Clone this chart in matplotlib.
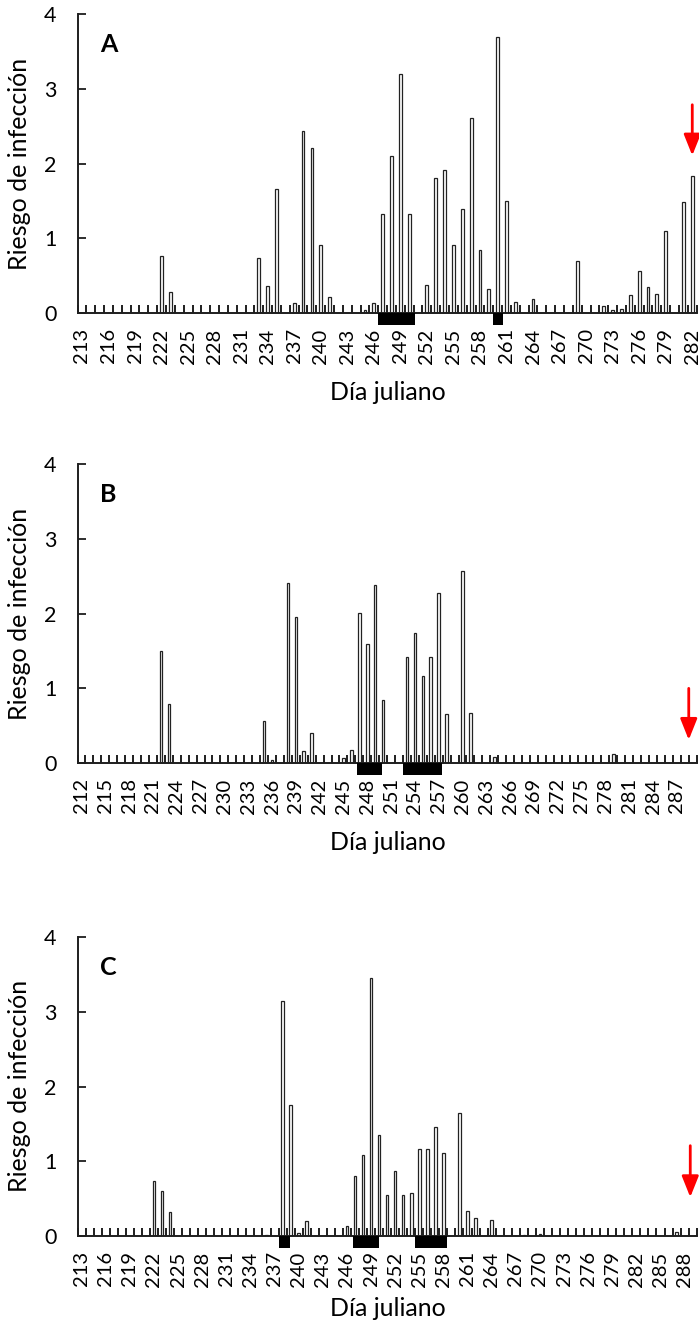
import matplotlib
matplotlib.use("Agg")
import matplotlib.pyplot as plt
from matplotlib.patches import Rectangle

plt.rcParams["font.family"] = ["Lato", "DejaVu Sans"]

# Panel A: days 213-282
a_first, a_last = 213, 282
a_days = [222, 223, 233, 234, 235, 237, 238, 239, 240, 241, 245, 246, 247, 248,
          249, 250, 252, 253, 254, 255, 256, 257, 258, 259, 260, 261, 262, 264,
          269, 272, 273, 274, 275, 276, 277, 278, 279, 281, 282]
a_vals = [0.77, 0.28, 0.74, 0.36, 1.66, 0.13, 2.44, 2.21, 0.91, 0.22, 0.04, 0.14, 1.33, 2.10,
          3.20, 1.32, 0.37, 1.81, 1.92, 0.91, 1.40, 2.61, 0.85, 0.32, 3.70, 1.50, 0.15, 0.19,
          0.70, 0.10, 0.04, 0.06, 0.24, 0.56, 0.35, 0.25, 1.10, 1.49, 1.83]
a_rain = [(247.0, 251.1), (260.0, 261.15)]

# Panel B: days 212-289
b_first, b_last = 212, 289
b_days = [222, 223, 235, 236, 238, 239, 240, 241, 245, 246, 247, 248, 249, 250,
          253, 254, 255, 256, 257, 258, 260, 261, 264, 279]
b_vals = [1.50, 0.79, 0.56, 0.045, 2.41, 1.95, 0.16, 0.40, 0.07, 0.18, 2.01, 1.59, 2.39, 0.85,
          1.42, 1.74, 1.17, 1.42, 2.28, 0.66, 2.57, 0.67, 0.08, 0.12]
b_rain = [(247.2, 250.35), (253.0, 257.9)]

# Panel C: days 213-289
c_first, c_last = 213, 289
c_days = [222, 223, 224, 233, 236, 238, 239, 240, 241, 246, 247, 248, 249, 250,
          251, 252, 253, 254, 255, 256, 257, 258, 260, 261, 262, 264, 268, 270, 287]
c_vals = [0.74, 0.60, 0.32, -0.01, 0.02, 3.15, 1.76, 0.045, 0.20, 0.14, 0.81, 1.09, 3.45, 1.35,
          0.55, 0.87, 0.55, 0.57, 1.16, 1.16, 1.46, 1.11, 1.65, 0.33, 0.24, 0.21, 0.01, 0.03, 0.05]
c_rain = [(238.1, 239.4), (247.2, 250.45), (255.0, 259.0)]

AXIS_COLOR = "#1e1e1e"
FS_TICK = 14.5
FS_LABEL = 18


def draw_panel(fig, bottom, first, last, days, vals, rain, letter, arrow_day, arrow_top, arrow_tip):
    ax = fig.add_axes([0.1109, bottom, 0.8858, 0.2255])
    n = last - first + 1
    xs = [d - first for d in days]
    ax.bar(xs, vals, width=0.32, color="white", edgecolor="#222222", linewidth=0.9, zorder=3)

    ax.set_xlim(-0.5, n - 0.5)
    ax.set_ylim(0, 4)

    # tick marks between categories, labels every third day
    ax.set_xticks([i - 0.5 for i in range(n + 1)])
    ax.set_xticklabels([])
    lab_idx = list(range(0, n, 3))
    ax.set_xticks(lab_idx, [str(first + i) for i in lab_idx], minor=True, rotation=90)
    ax.tick_params(axis="x", which="major", direction="in", length=5.5, width=1.4, color=AXIS_COLOR)
    ax.tick_params(axis="x", which="minor", length=0, pad=11, labelsize=FS_TICK)
    ax.set_yticks([0, 1, 2, 3, 4])
    ax.tick_params(axis="y", direction="in", length=5.5, width=1.3, color=AXIS_COLOR,
                   pad=15, labelsize=FS_TICK + 1)

    for s in ["top", "right"]:
        ax.spines[s].set_visible(False)
    for s in ["left", "bottom"]:
        ax.spines[s].set_color(AXIS_COLOR)
        ax.spines[s].set_linewidth(1.4)
        ax.spines[s].set_zorder(4)

    # black periods under the axis
    for start, end in rain:
        ax.add_patch(Rectangle((start - first - 0.5, -0.165), end - start, 0.165,
                               facecolor="black", edgecolor="none", clip_on=False, zorder=5))

    ax.annotate("", xy=(arrow_day - first, arrow_tip), xytext=(arrow_day - first, arrow_top),
                arrowprops=dict(arrowstyle="-|>,head_length=0.4,head_width=0.16",
                                mutation_scale=32, color="red", lw=2.0, shrinkA=0, shrinkB=0),
                annotation_clip=False)

    ax.text(0.036, 0.9, letter, transform=ax.transAxes, fontsize=18, fontweight="bold",
            ha="left", va="center")
    return ax


fig = plt.figure(figsize=(6.99, 13.24), dpi=100)
H = 1324.0

draw_panel(fig, 1 - 313 / H, a_first, a_last, a_days, a_vals, a_rain, "A", 282, 2.79, 2.11)
draw_panel(fig, 1 - 763 / H, b_first, b_last, b_days, b_vals, b_rain, "B", 288.5, 1.0, 0.31)
draw_panel(fig, 1 - 1236 / H, c_first, c_last, c_days, c_vals, c_rain, "C", 288.7, 1.21, 0.52)

for y_mid, y_lab in [(164, 392), (614, 842), (1086, 1309)]:
    fig.text(20 / 699, 1 - y_mid / H, "Riesgo de infección", rotation=90,
             ha="center", va="center", fontsize=FS_LABEL)
    fig.text(388 / 699, 1 - y_lab / H, "Día juliano", ha="center", va="center", fontsize=FS_LABEL)

fig.savefig("out.png", dpi=100)
